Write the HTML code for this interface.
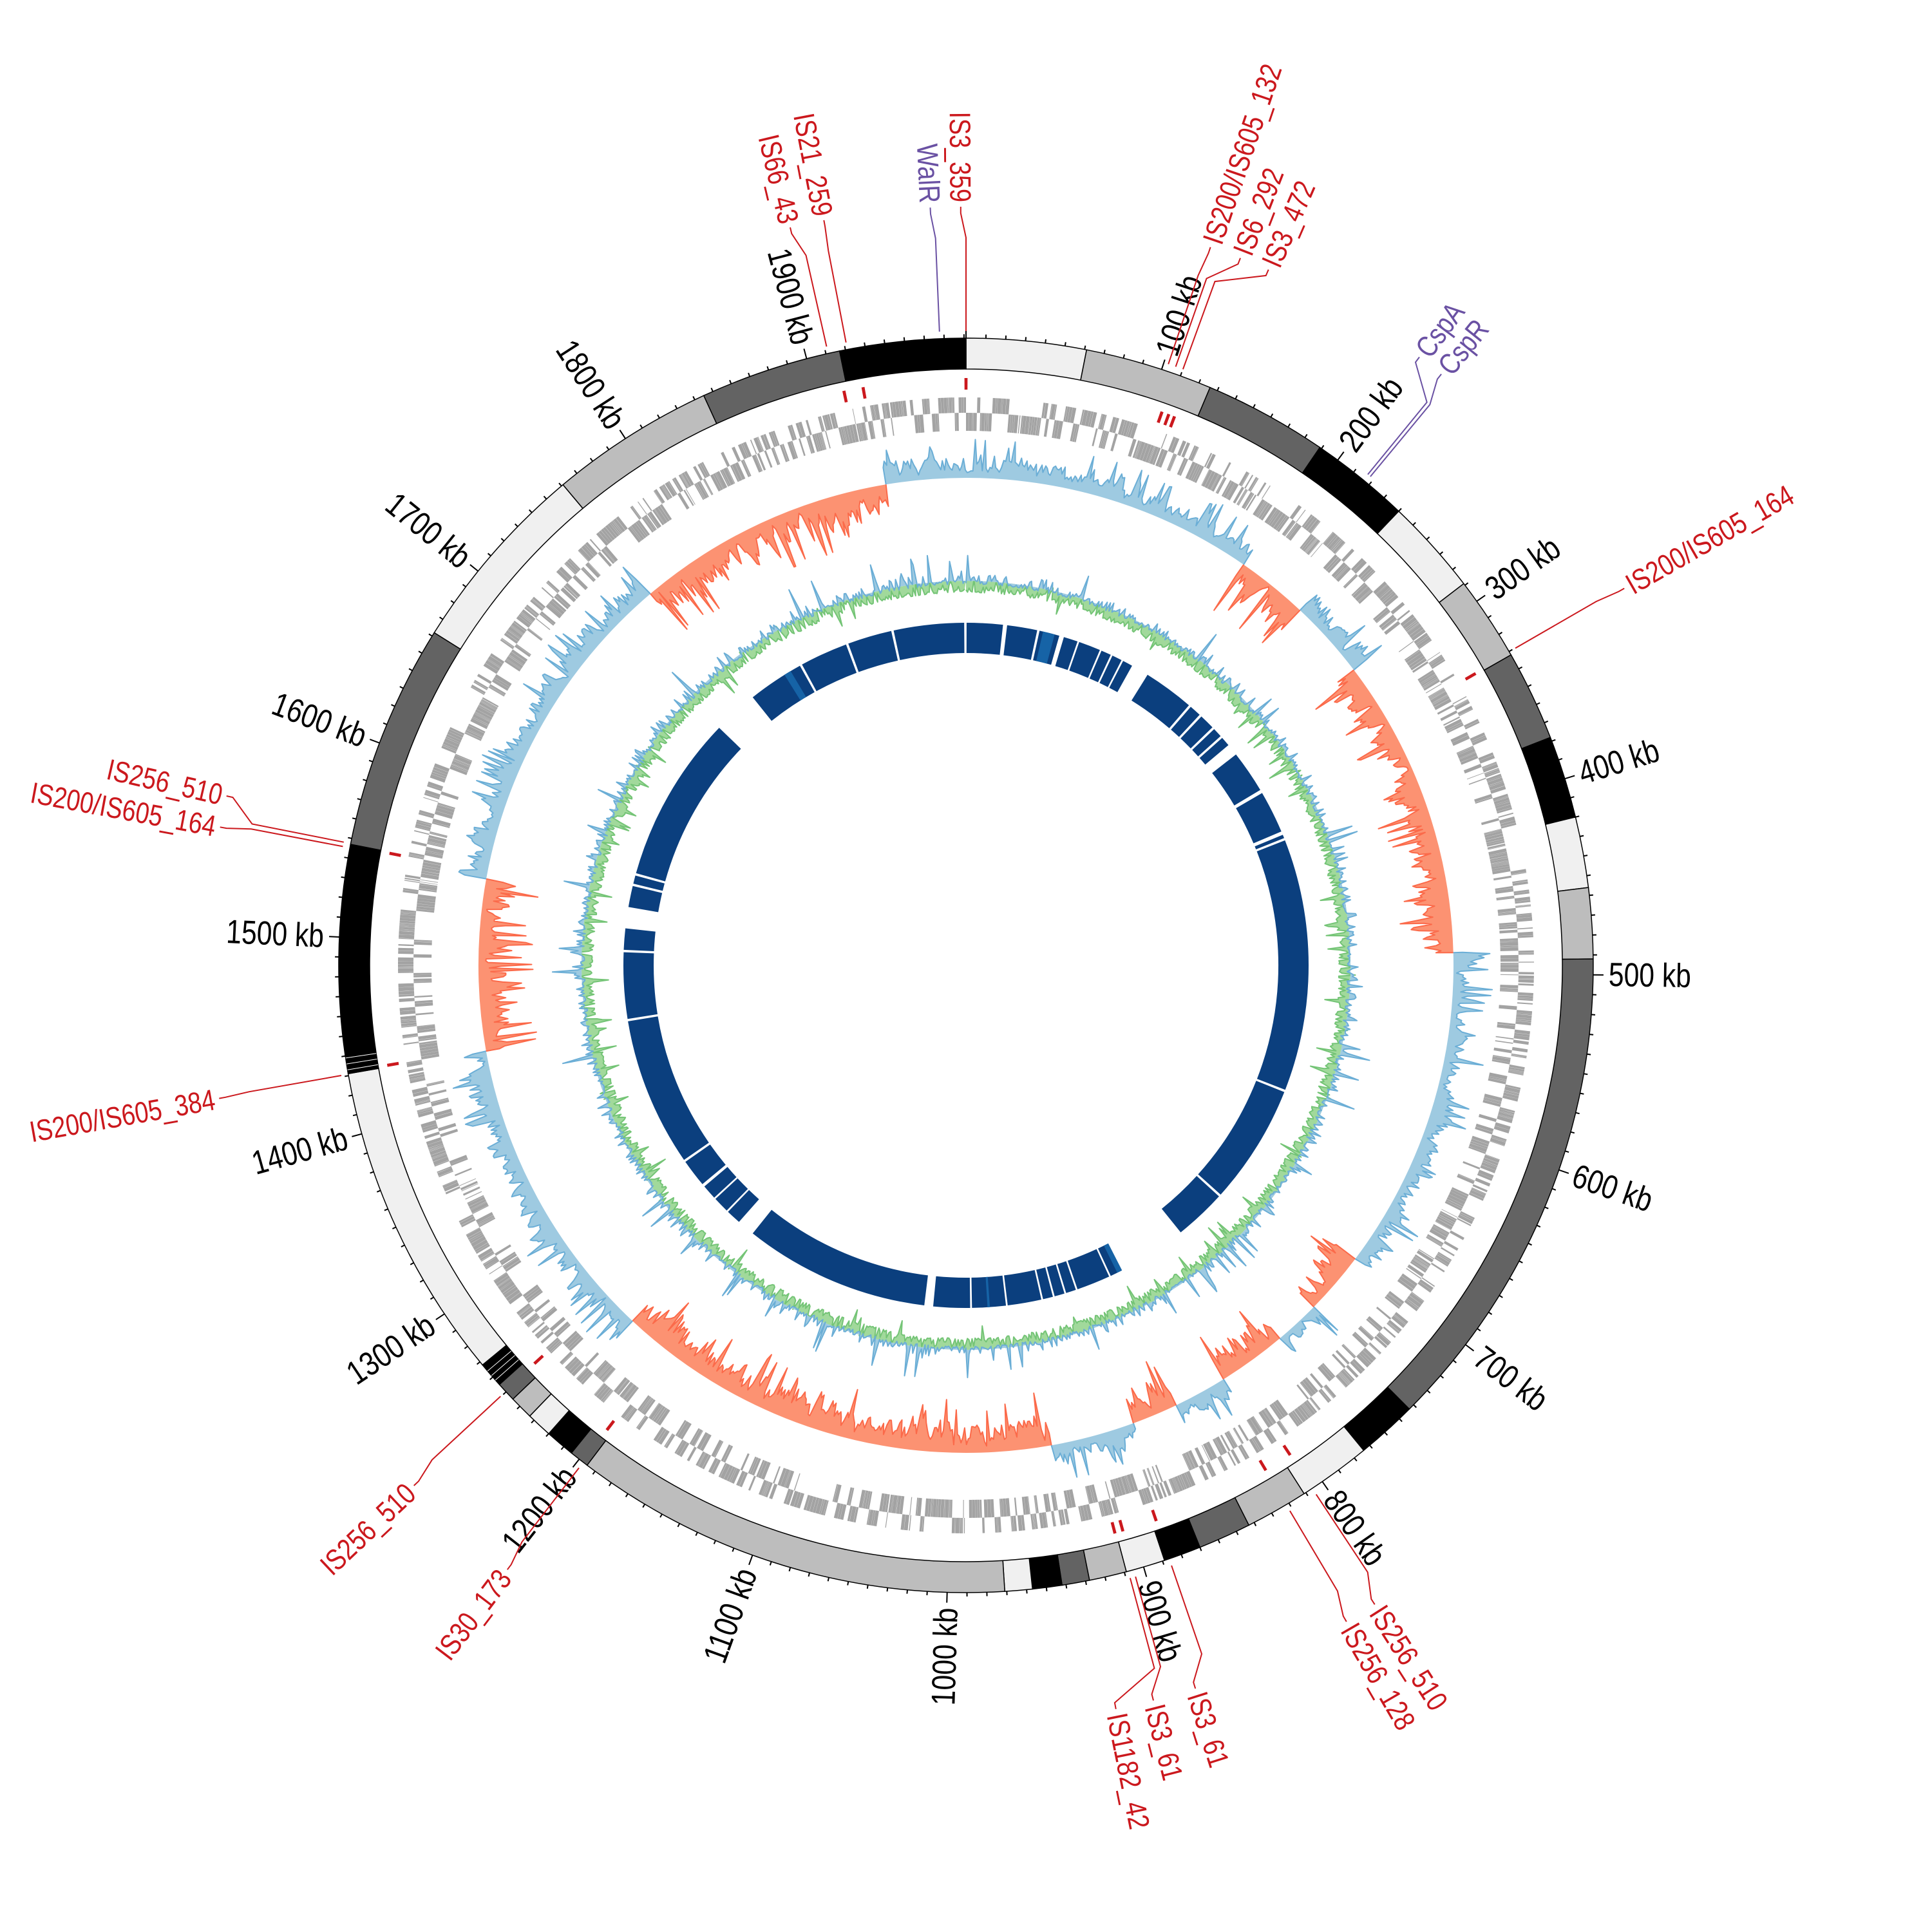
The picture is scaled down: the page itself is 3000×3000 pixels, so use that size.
<!DOCTYPE html>
<html><head><meta charset="utf-8"><style>
html,body{margin:0;padding:0;background:#fff;}
svg{display:block;}
text{font-family:"Liberation Sans Narrow","Liberation Sans",sans-serif;}
</style></head><body>
<svg id="s" xmlns="http://www.w3.org/2000/svg" width="3000" height="3000" viewBox="0 0 3000 3000"></svg>
<script>
(function(){
const cx=1500,cy=1499,G=1981;
let seed=12345;function rnd(){seed=(seed*1103515245+12345)%2147483648;return seed/2147483648;}
function P(r,a){const t=a*Math.PI/180;return [cx+r*Math.sin(t),cy-r*Math.cos(t)];}
function f(p){return p[0].toFixed(1)+","+p[1].toFixed(1);}
function K(kb){return kb/G*360;}
function arc(r1,r2,a1,a2){const lg=(a2-a1)>180?1:0;
return "M"+f(P(r2,a1))+"A"+r2+","+r2+" 0 "+lg+" 1 "+f(P(r2,a2))+"L"+f(P(r1,a2))+"A"+r1+","+r1+" 0 "+lg+" 0 "+f(P(r1,a1))+"Z";}
function back(r,a1,a2){let d="";const n=Math.ceil((a2-a1)/90)||1;for(let i=n-1;i>=0;i--){const a=a1+(a2-a1)*i/n;d+="A"+r+","+r+" 0 0 0 "+f(P(r,a));}return d;}
let o=[];
const col={L:"#f0f0f0",G:"#bdbdbd",D:"#636363",B:"#000000"};
const segs=[[0,61,'L'],[61,126,'G'],[126,189,'D'],[189,240,'B'],[240,289,'L'],[289,332,'G'],[332,378,'D'],[378,420,'B'],[420,456,'L'],[456,492,'G'],[492,743,'D'],[743,774,'B'],[774,811,'L'],[811,843,'G'],[843,870,'D'],[870,889,'B'],[889,909,'L'],[909,928,'G'],[928,942,'D'],[942,957,'B'],[957,971,'L'],[971,1195,'G'],[1195,1205,'D'],[1205,1220,'B'],[1220,1233,'L'],[1233,1245,'G'],[1245,1255,'D'],[1255,1268,'B'],[1268,1431,'L'],[1431,1547,'B'],[1547,1662,'D'],[1662,1761,'L'],[1761,1845,'G'],[1845,1917,'D'],[1917,1981,'B']];
segs.forEach(s=>{o.push('<path d="'+arc(926,974,K(s[0]),K(s[1]))+'" fill="'+col[s[2]]+'" stroke="#000" stroke-width="1.5"/>');});
[1258,1261,1264,1433,1436,1439].forEach(k=>{const a=K(k);o.push('<path d="M'+f(P(926,a))+'L'+f(P(974,a))+'" stroke="#fff" stroke-width="1"/>');});
for(let k=0;k<G;k+=10){const a=K(k);const L=(k%100==0)?16:6;o.push('<path d="M'+f(P(974,a))+'L'+f(P(974+L,a))+'" stroke="#000" stroke-width="2"/>');}
const W={'0':.556,'1':.556,'2':.556,'3':.556,'4':.556,'5':.556,'6':.556,'7':.556,'8':.556,'9':.556,'I':.278,'S':.667,'_':.556,'/':.278,' ':.278,'k':.5,'b':.556,'W':.944,'a':.556,'l':.222,'R':.722,'C':.722,'s':.5,'p':.556,'A':.667};
function tw(s,fs){let w=0;for(const c of s)w+=(W[c]||.556);return w*fs*0.82;}
function rtext(txt,a,r,fs,color){const p=P(r,a);let rot,anc;if(a%360<180){rot=a-90;anc="start";}else{rot=a+90;anc="end";}
return '<text x="'+p[0].toFixed(1)+'" y="'+p[1].toFixed(1)+'" font-size="'+fs+'" fill="'+color+'" text-anchor="'+anc+'" dominant-baseline="central" textLength="'+tw(txt,fs).toFixed(1)+'" lengthAdjust="spacingAndGlyphs" transform="rotate('+rot.toFixed(2)+' '+p[0].toFixed(1)+' '+p[1].toFixed(1)+')">'+txt+'</text>';}
for(let k=100;k<G;k+=100){o.push(rtext(k+" kb",K(k),998,52,"#000"));}
[348,349.9,0,19.5,20.2,20.8,60.2,146.5,149.3,161.1,164.5,165.3,217.7,227.3,260.2,281].forEach(a=>{o.push('<path d="'+arc(894,912,a-0.15,a+0.15)+'" fill="#cb181d"/>');});
// genes
let pos=0,lane=0;let gp='';
while(pos<G){let len=0.3+rnd()*1.8;if(rnd()<0.3)lane=1-lane;let gap=rnd()<0.06?rnd()*2.5:0.08;
const r1=lane?858:830,r2=lane?882:858;const a1=K(pos),a2=K(Math.min(G,pos+len));
gp+="M"+f(P(r1,a1))+"L"+f(P(r2,a1))+"L"+f(P(r2,a2))+"L"+f(P(r1,a2))+"Z";pos+=len+gap;}
o.push('<path d="'+gp+'" fill="#a3a3a3"/>');
// GC skew
const regs=[[-52,191,1],[191,238,-1],[238,290,1],[290,487,-1],[487,699,1],[699,740,-1],[740,770,1],[770,815,-1],[815,850,1],[850,880,-1],[880,935,1],[935,1228,-1],[1228,1430,1],[1430,1542,-1],[1542,1759,1],[1759,1929,-1]];
const base=757;
regs.forEach(rg=>{const s=rg[2];const A=s>0?62:85;let v=0.5;let pts=[];
for(let k=rg[0];k<=rg[1];k+=1.2){v=0.55*v+0.45*rnd();let a=v*(0.5+0.45*rnd());if(rnd()<0.07)a=0.75+0.25*rnd();pts.push([k,base+s*A*a]);}
const a1=K(rg[0]),a2=K(rg[1]);
let d="M"+f(P(base,a1));pts.forEach(q=>{d+="L"+f(P(q[1],K(q[0])));});d+="L"+f(P(base,a2))+back(base,a1,a2)+"Z";
o.push('<path d="'+d+'" fill="'+(s>0?"#9ecae1":"#fc9272")+'" stroke="none"/>');
let l="M"+f(P(base,a1));pts.forEach(q=>{l+="L"+f(P(q[1],K(q[0])));});l+="L"+f(P(base,a2));
o.push('<path d="'+l+'" fill="none" stroke="'+(s>0?"#6baed6":"#fb6a4a")+'" stroke-width="2" stroke-linejoin="round"/>');});
// GC content
const b2=597;
function series(lo,hi,fill,stroke,sp){let c="";let first=true;for(let k=0;k<=G;k+=1.3){let v=lo+(hi-lo)*rnd()*rnd();if(rnd()<sp)v=(hi>Math.abs(lo)?hi:lo)*(1.4+rnd());c+=(first?"M":"L")+f(P(b2+v,K(k)));first=false;}
const d=c+"L"+f(P(b2,360))+back(b2,0,360)+"Z";
o.push('<path d="'+d+'" fill="'+fill+'" stroke="none"/>');
o.push('<path d="'+c+'" fill="none" stroke="'+stroke+'" stroke-width="2" stroke-linejoin="round"/>');}
series(-18,8,"#a1d99b","#74c476",0.03);
series(-5,20,"#9ecae1","#6baed6",0.035);
// inner blue blocks
const blocks=[[0.1,6.2],[6.9,12.0],[12.4,15.8],[16.6,19],[19.3,23],[23.3,25],[25.3,27],[27.3,29.0],[32,40.6],[41,43],[43.4,46],[46.4,48],[48.4,50],[52,59.2],[59.8,67.0],[67.6,68.2],[68.6,111.3],[111.7,132],[132.4,141.2],[153,155],[155.3,161],[161.3,163],[163.3,165],[165.3,167],[167.3,173],[173.3,179],[179.3,185.5],[187,218.5],[221.5,224],[224.3,227],[227.3,229.8],[230.3,235],[235.4,260.6],[261,272.2],[272.6,276.2],[279.8,283.4],[283.8,285.2],[285.6,313.9],[321.5,331],[331.4,339.5],[339.9,347.4],[347.8,359.7]];
blocks.forEach(b=>{o.push('<path d="'+arc(485,532,b[0],b[1])+'" fill="#0b3f7e"/>');});
[[13.0,15.0],[328,329.2],[152.9,153.8],[176,176.4]].forEach(b=>{o.push('<path d="'+arc(485,532,b[0],b[1])+'" fill="#1663a6"/>');});
// labels
const R="#cb181d",Pu="#6a51a3";
const labs=[["IS3_359",0.0,359.6,R],["WalR",357.6,357.3,Pu],["IS21_259",349.1,349.2,R],["IS66_43",347.3,346.6,R],["IS200/IS605_132",18.6,18.8,R],["IS6_292",19.3,21.2,R],["IS3_472",20.0,23.5,R],["CspA",39.3,36.7,Pu],["CspR",39.6,38.8,Pu],["IS200/IS605_164",60.0,60.2,R],["IS256_510",146.5,147.4,R],["IS256_128",149.3,149.9,R],["IS3_61",161.1,162.4,R],["IS3_61",164.5,165.7,R],["IS1182_42",165.0,168.6,R],["IS30_173",217.6,217.2,R],["IS256_510",227.2,226.7,R],["IS200/IS605_384",260.0,259.9,R],["IS200/IS605_164",280.8,280.5,R],["IS256_510",281.2,282.9,R]];
labs.forEach(l=>{const fa=l[1],la=l[2];const d="M"+f(P(985,fa))+"L"+f(P(1130,fa))+"L"+f(P(1168,la))+"L"+f(P(1178,la));
o.push('<path d="'+d+'" fill="none" stroke="'+l[3]+'" stroke-width="2"/>');o.push(rtext(l[0],la,1185,46,l[3]));});
document.getElementById("s").innerHTML=o.join("");
})();
</script>
</body></html>
